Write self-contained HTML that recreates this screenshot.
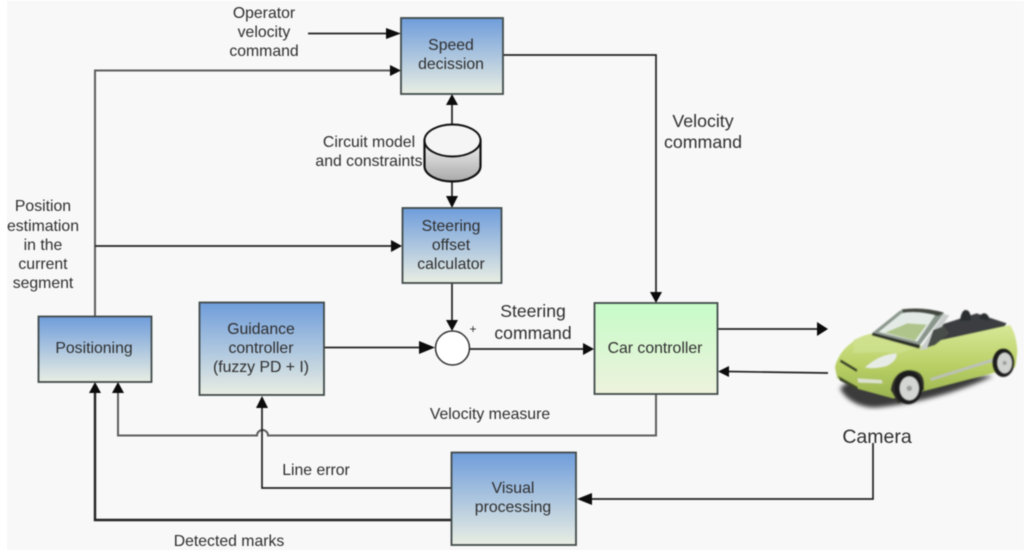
<!DOCTYPE html>
<html>
<head>
<meta charset="utf-8">
<style>
html,body{margin:0;padding:0;width:1024px;height:555px;overflow:hidden;background:#fff}
svg{display:block;filter:blur(.5px)}
text{font-family:"Liberation Sans",sans-serif;font-size:15.8px;fill:#2e2e2e;text-anchor:middle}
.b{fill:url(#blue);stroke:#404a4a;stroke-width:1.8}
.l{fill:none;stroke:#222;stroke-width:1.7}
.g{fill:none;stroke:#5e5e5e;stroke-width:2}
.a{fill:#0c0c0c}
</style>
</head>
<body>
<svg width="1024" height="555" viewBox="0 0 1024 555" xmlns="http://www.w3.org/2000/svg">
<defs>
<linearGradient id="blue" x1="0" y1="0" x2="0" y2="1"><stop offset="0" stop-color="#6f9ddb"/><stop offset="1" stop-color="#e9eee3"/></linearGradient>
<linearGradient id="green" x1="0" y1="0" x2="0" y2="1"><stop offset="0" stop-color="#c6fcc8"/><stop offset="1" stop-color="#eef2dd"/></linearGradient>
<linearGradient id="cyl" x1="0" y1="0" x2="0" y2="1"><stop offset="0" stop-color="#f4f4f4"/><stop offset="1" stop-color="#a9a9a9"/></linearGradient>
<linearGradient id="carb" x1="0" y1="0" x2="0" y2="1"><stop offset="0" stop-color="#d8e898"/><stop offset=".55" stop-color="#b9d066"/><stop offset="1" stop-color="#9cb450"/></linearGradient>
<filter id="soft"><feGaussianBlur stdDeviation="6"/></filter>
<filter id="carblur"><feGaussianBlur stdDeviation="1.800"/></filter>
</defs>
<rect x="7" y="1" width="1017" height="549" fill="#f8f8f8"/>

<!-- connectors -->
<path class="l" d="M308 33.500H390"/><path class="a" d="M386 28l15 5.500-15 5.500z"/>
<path class="g" d="M95 316V70.500H392"/><path class="a" d="M390 65l11 5.500-11 5.500z"/>
<path class="l" d="M95 246H393" stroke-width="2"/><path class="a" d="M391 240l11 6-11 6z"/>
<path class="l" d="M503 55H656V294"/><path class="a" d="M650 292l6 11 6-11z"/>
<path class="l" d="M452 124V104"/><path class="a" d="M452 94l-6 11h12z"/>
<path class="l" d="M452 182V198"/><path class="a" d="M446 196l6 12 6-12z"/>
<path class="l" d="M452 283V322"/><path class="a" d="M446 320l6 11 6-11z"/>
<path class="l" d="M324 347.500H424"/><path class="a" d="M419 341l16 6.500-16 6.500z"/>
<path class="l" d="M469 349H584"/><path class="a" d="M583 343l11 6-11 6z"/>
<path class="l" d="M718 329H818"/><path class="a" d="M817 322l11 7-11 7z"/>
<path class="l" d="M728 371.500L828 373"/><path class="a" d="M729 366l-11 5.500 11 5.500z"/>
<path class="g" d="M656 394V435.500H268a5.500 5.500 0 0 0-11 0H118V390"/><path class="a" d="M118 382l-6 11h12z"/>
<path class="l" d="M262 400V488H451" stroke="#444"/><path class="a" d="M262 396l-6 12h12z"/>
<path class="l" d="M95 392V520H451" style="stroke-width:2.400"/><path class="a" d="M95 382l-6 11h12z"/>
<path class="l" d="M873 443V499H590"/><path class="a" d="M577 499l15-6v12z"/>

<!-- boxes -->
<rect class="b" x="401" y="18" width="102" height="76"/>
<rect class="b" x="402.500" y="208" width="99" height="75"/>
<rect class="b" x="38.500" y="316.500" width="113" height="65.500"/>
<rect class="b" x="199.500" y="302.500" width="124.500" height="92.500"/>
<rect x="594.500" y="303" width="123" height="91" fill="url(#green)" stroke="#404a4a" stroke-width="1.800"/>
<rect class="b" x="451.500" y="452.500" width="124.500" height="92.500"/>
<circle cx="452.500" cy="348" r="17" fill="#fff" stroke="#333" stroke-width="1.500"/>

<!-- cylinder -->
<path d="M424.500 140.500V166a28 15.500 0 0 0 56 0V140.500z" fill="url(#cyl)" stroke="#111" stroke-width="2.200"/>
<ellipse cx="452.500" cy="140.500" rx="28" ry="16" fill="#f5f5f5" stroke="#111" stroke-width="2"/>

<!-- car -->
<g transform="translate(820 290) scale(.3333)" filter="url(#carblur)">
<path d="M60 295C80 335 130 356 175 352C300 340 430 300 520 258L330 250L90 270z" fill="#3a3a3a" filter="url(#soft)"/>
<path d="M158 128L240 62Q300 48 372 70L300 165z" fill="#8a968c"/>
<path d="M176 126L245 70Q290 60 345 76L292 155z" fill="#e4ebe6"/>
<path d="M195 128L262 100L320 104L285 152z" fill="#aec48a"/>
<path d="M245 58Q310 50 372 68L355 78Q300 62 250 68z" fill="#43463f"/>
<path d="M345 110L470 70L560 100L545 120L340 170z" fill="#3a3d3f"/>
<path d="M420 92Q424 60 438 60Q454 62 452 92zM478 86Q482 68 495 70Q510 76 506 92z" fill="#2b2d2f"/>
<path d="M45 232C55 180 110 135 165 130L300 168L365 150L570 105Q588 130 592 180Q590 215 585 232L515 250L330 298L220 325L110 295L52 265z" fill="url(#carb)"/>
<path d="M100 150Q140 130 165 130L295 170L240 190Q170 185 100 190z" fill="#cfe190" opacity=".7"/>
<path d="M298 180L372 72L388 76L322 176z" fill="#c9cecc"/>
<path d="M158 128L300 165L298 176L155 136z" fill="#2b2f28"/>
<path d="M322 172L340 120L372 108L388 130L345 165z" fill="#4a4d48"/>
<path d="M135 232Q180 192 230 190Q232 212 200 228Q165 238 135 232z" fill="#e8ece6"/>
<path d="M62 208L112 238L110 246L60 216z" fill="#333a26"/>
<path d="M55 258L112 290L116 300L60 272z" fill="#3e462c"/>
<path d="M112 265L185 270L188 280L115 278z" fill="#dde2d0"/>
<path d="M330 265L520 205L522 214L335 272z" fill="#bcc1b8"/>
<path d="M212 300Q220 245 265 240Q310 240 312 280L312 300L235 340z" fill="#30322a"/>
<ellipse cx="265" cy="293" rx="42" ry="50" fill="#1d1e1c"/>
<ellipse cx="268" cy="295" rx="29" ry="36" fill="#d3d6d2"/>
<circle cx="268" cy="295" r="8" fill="#9a9e99"/>
<ellipse cx="550" cy="218" rx="33" ry="43" fill="#1d1e1c"/>
<ellipse cx="554" cy="219" rx="22" ry="31" fill="#cfd2ce"/>
<circle cx="554" cy="219" r="6" fill="#9a9e99"/>
</g>

<!-- labels -->
<text x="264" y="18">Operator</text>
<text x="264" y="37">velocity</text>
<text x="264" y="56">command</text>
<text x="451" y="50">Speed</text>
<text x="451" y="69">decission</text>
<text x="369" y="147">Circuit model</text>
<text x="369" y="166">and constraints</text>
<text x="451" y="231">Steering</text>
<text x="451" y="250">offset</text>
<text x="451" y="269">calculator</text>
<text x="43" y="211">Position</text>
<text x="43" y="231">estimation</text>
<text x="43" y="250">in the</text>
<text x="43" y="269">current</text>
<text x="43" y="288">segment</text>
<text x="94" y="353">Positioning</text>
<text x="261" y="334">Guidance</text>
<text x="261" y="353">controller</text>
<text x="261" y="372">(fuzzy PD + I)</text>
<text x="473" y="333" style="font-size:12px">+</text>
<text x="533" y="317" style="font-size:17.600px">Steering</text>
<text x="533" y="339" style="font-size:17.600px">command</text>
<text x="655" y="353">Car controller</text>
<text x="703" y="127" style="font-size:17.800px">Velocity</text>
<text x="703" y="148" style="font-size:17.800px">command</text>
<text x="490" y="419">Velocity measure</text>
<text x="877" y="443" style="font-size:19.500px">Camera</text>
<text x="316" y="475">Line error</text>
<text x="513" y="493">Visual</text>
<text x="513" y="512">processing</text>
<text x="229" y="546">Detected marks</text>
</svg>
</body>
</html>
